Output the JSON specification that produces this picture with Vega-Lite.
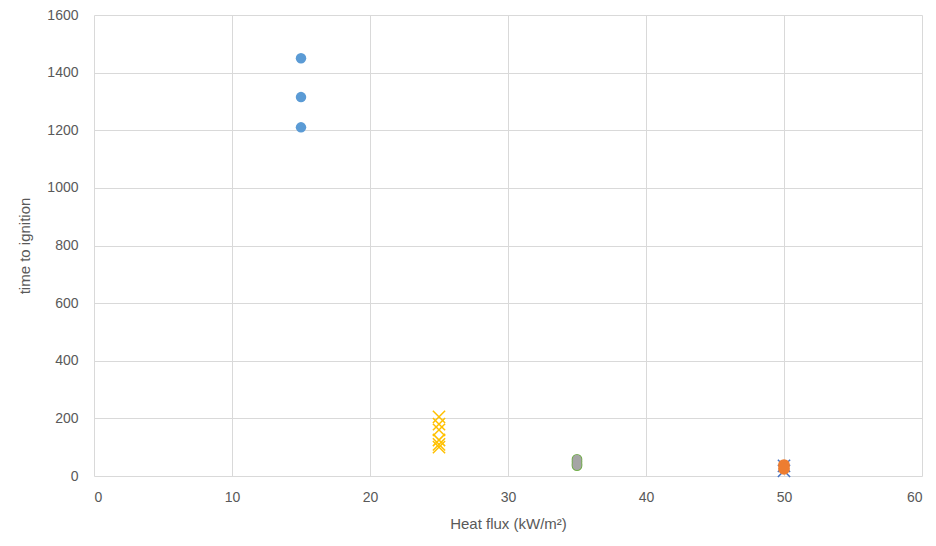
{
  "$schema": "https://vega.github.io/schema/vega-lite/v6.json",
  "width": 828,
  "height": 461,
  "autosize": {"type": "none"},
  "padding": {"left": 94, "top": 15, "right": 14, "bottom": 70},
  "background": "white",
  "config": {
    "view": {"stroke": null},
    "font": "Liberation Sans",
    "axis": {
      "gridColor": "#D9D9D9",
      "gridWidth": 1,
      "domain": false,
      "ticks": false,
      "labelColor": "#595959",
      "labelFontSize": 14,
      "labelFont": "Liberation Sans",
      "titleColor": "#595959",
      "titleFontSize": 15,
      "titleFont": "Liberation Sans",
      "titleFontWeight": "normal"
    }
  },
  "data": {
    "values": [
      {"flux": 15, "time": 1450, "series": "A"},
      {"flux": 15, "time": 1315, "series": "A"},
      {"flux": 15, "time": 1210, "series": "A"},
      {"flux": 25, "time": 205, "series": "B"},
      {"flux": 25, "time": 180, "series": "B"},
      {"flux": 25, "time": 160, "series": "B"},
      {"flux": 25, "time": 125, "series": "B"},
      {"flux": 25, "time": 110, "series": "B"},
      {"flux": 25, "time": 100, "series": "B"},
      {"flux": 35, "time": 58, "series": "C"},
      {"flux": 35, "time": 50, "series": "C"},
      {"flux": 35, "time": 42, "series": "C"},
      {"flux": 35, "time": 36, "series": "C"},
      {"flux": 35, "time": 58, "series": "G"},
      {"flux": 35, "time": 50, "series": "G"},
      {"flux": 35, "time": 42, "series": "G"},
      {"flux": 35, "time": 36, "series": "G"},
      {"flux": 50, "time": 35, "series": "D"},
      {"flux": 50, "time": 18, "series": "D"},
      {"flux": 50, "time": 38, "series": "E"},
      {"flux": 50, "time": 25, "series": "E"}
    ]
  },
  "encoding": {
    "x": {
      "field": "flux", "type": "quantitative",
      "scale": {"domain": [0, 60], "nice": false},
      "axis": {"values": [0, 10, 20, 30, 40, 50, 60], "format": "d", "title": "Heat flux (kW/m²)", "labelPadding": 14, "titlePadding": 12}
    },
    "y": {
      "field": "time", "type": "quantitative",
      "scale": {"domain": [0, 1600], "nice": false},
      "axis": {"values": [0, 200, 400, 600, 800, 1000, 1200, 1400, 1600], "format": "d", "title": "time to ignition", "labelPadding": 16, "titlePadding": 14}
    }
  },
  "layer": [
    {
      "transform": [{"filter": "datum.series === 'A'"}],
      "mark": {"type": "point", "shape": "circle", "filled": true, "size": 110, "color": "#5B9BD5", "opacity": 1}
    },
    {
      "transform": [{"filter": "datum.series === 'B'"}],
      "mark": {"type": "point", "shape": "M-1,-1L1,1M-1,1L1,-1", "filled": false, "size": 150, "color": "#FFC000", "strokeWidth": 1.5, "opacity": 1}
    },
    {
      "transform": [{"filter": "datum.series === 'G'"}],
      "mark": {"type": "point", "shape": "circle", "filled": true, "size": 115, "color": "#70AD47", "opacity": 1}
    },
    {
      "transform": [{"filter": "datum.series === 'C'"}],
      "mark": {"type": "point", "shape": "circle", "filled": true, "size": 78, "color": "#A5A5A5", "opacity": 1}
    },
    {
      "transform": [{"filter": "datum.series === 'D'"}],
      "mark": {"type": "point", "shape": "M-1,-1L1,1M-1,1L1,-1", "filled": false, "size": 150, "color": "#4472C4", "strokeWidth": 1.5, "opacity": 1}
    },
    {
      "transform": [{"filter": "datum.series === 'E'"}],
      "mark": {"type": "point", "shape": "circle", "filled": true, "size": 140, "color": "#ED7D31", "opacity": 1}
    }
  ]
}
